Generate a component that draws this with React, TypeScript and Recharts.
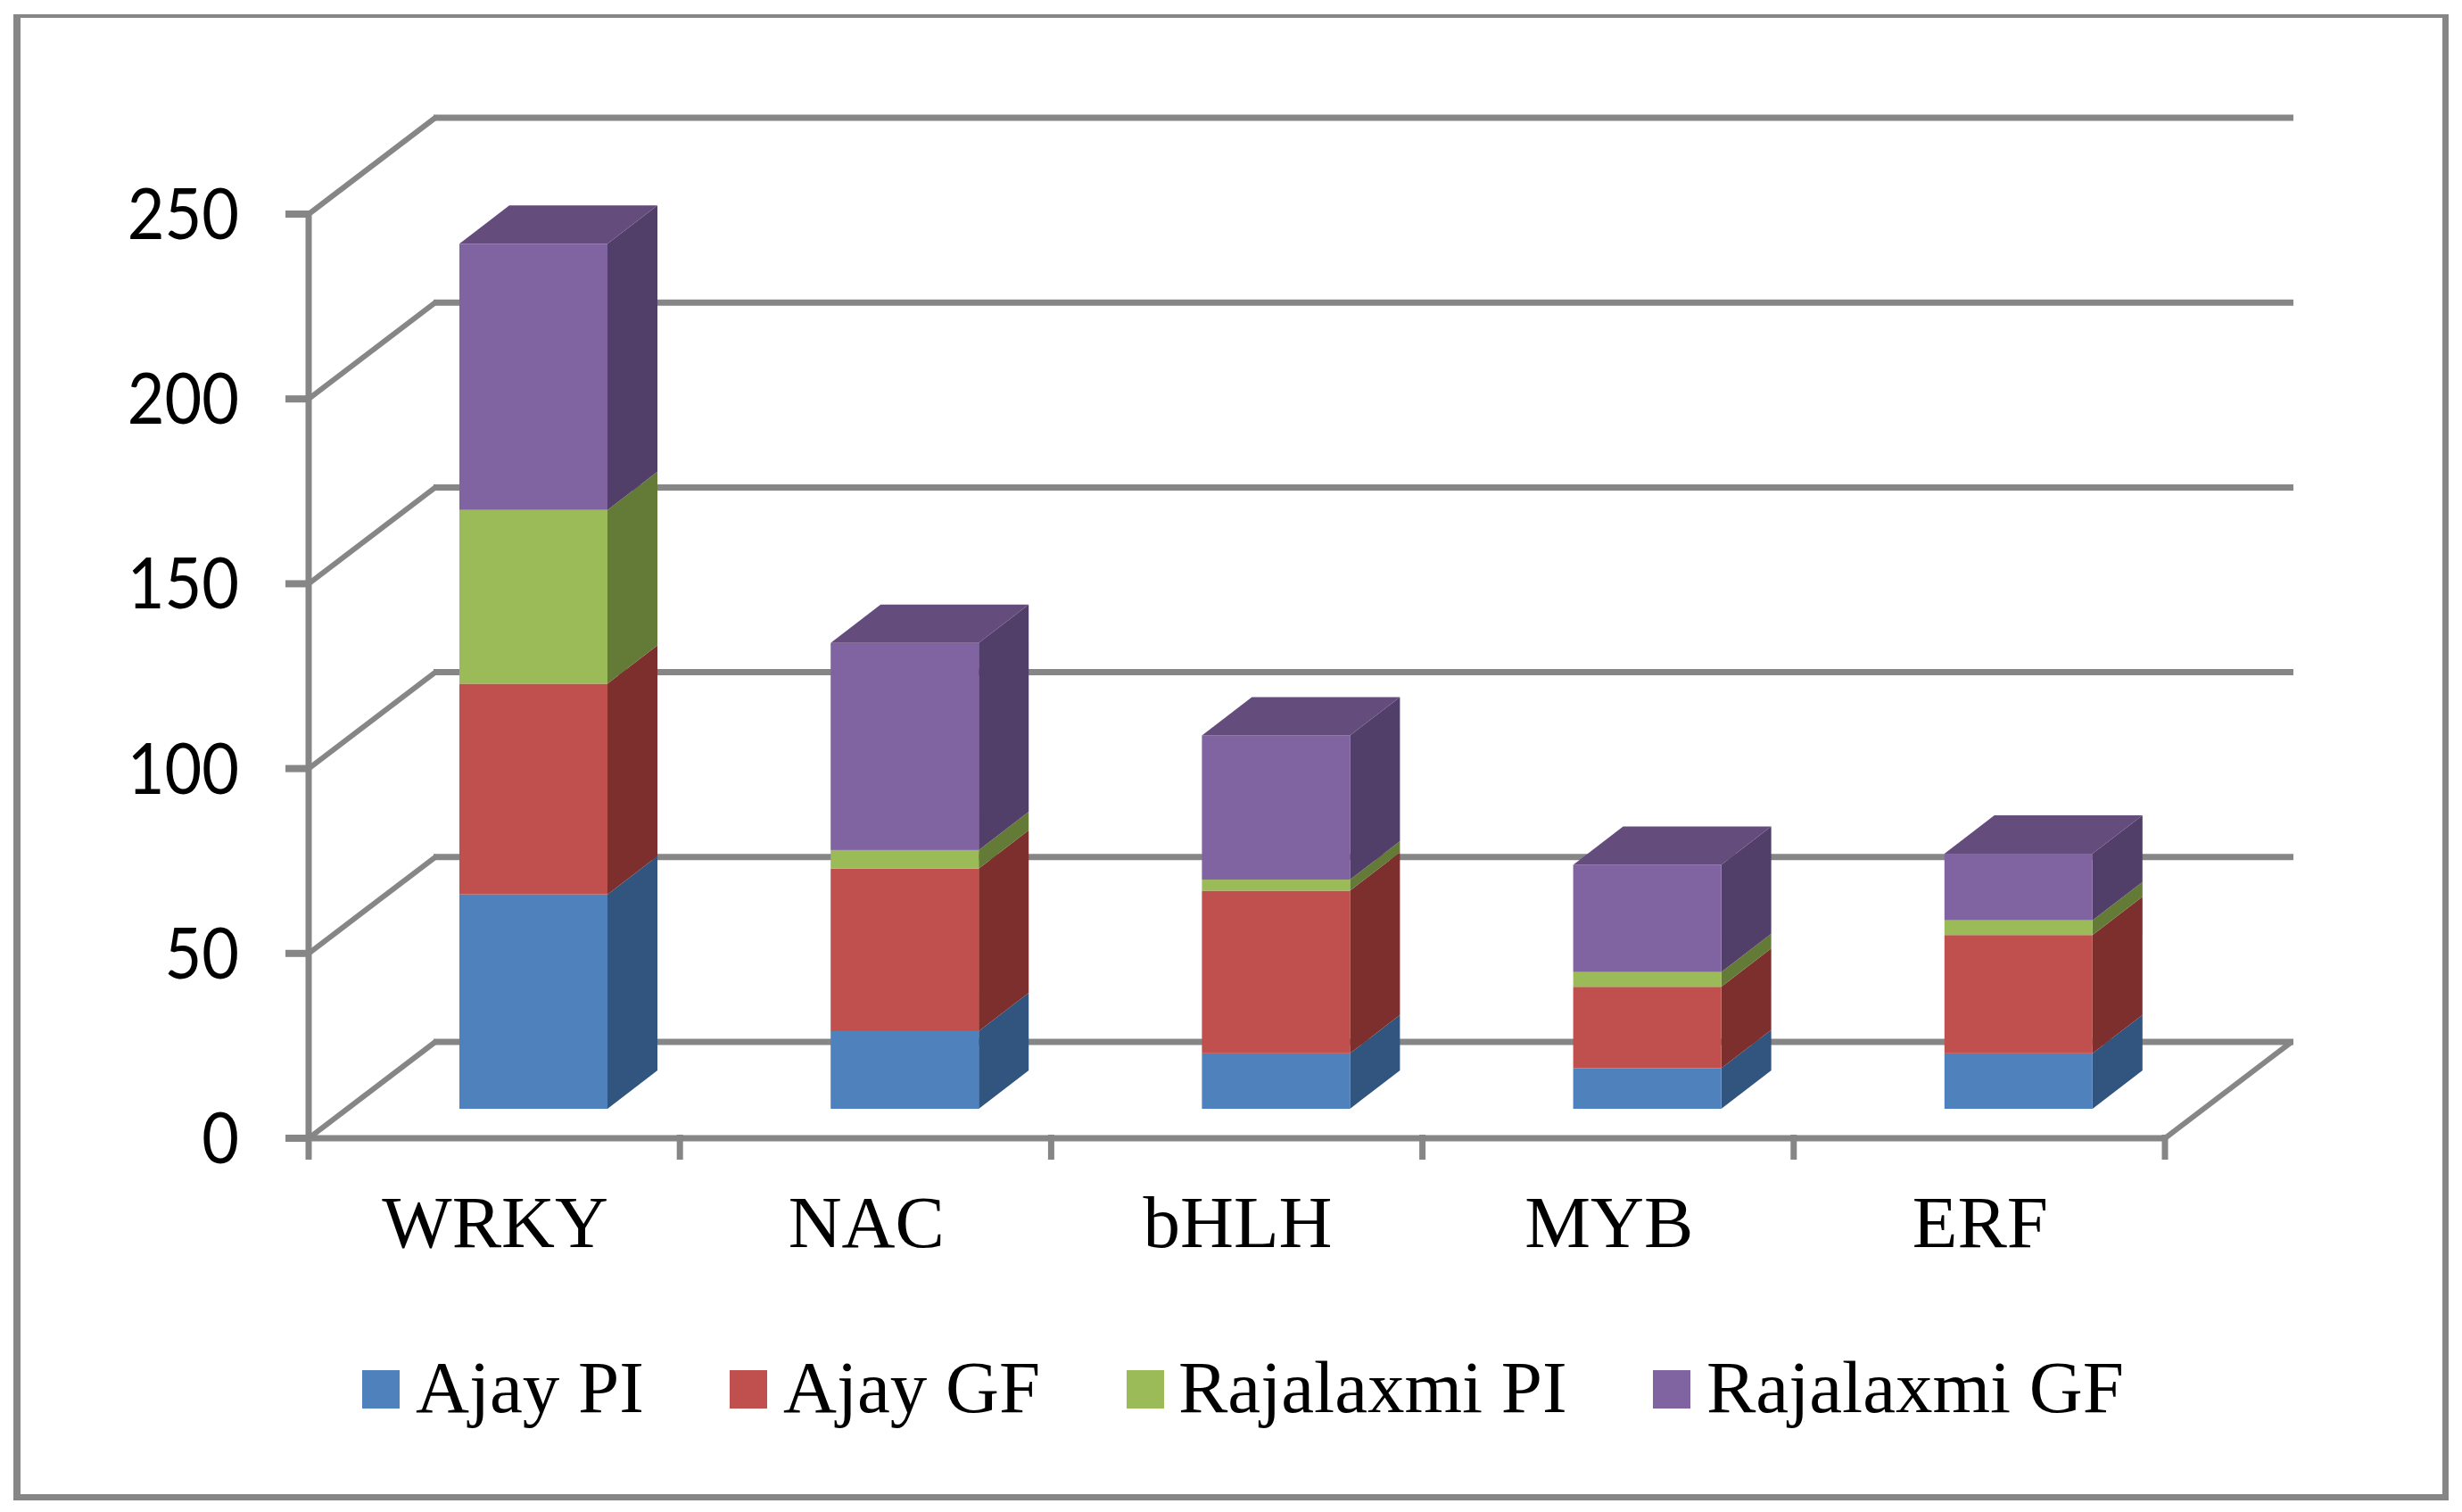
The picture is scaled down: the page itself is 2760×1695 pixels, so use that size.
import * as React from "react"
import { Bar, BarChart, CartesianGrid, Legend, XAxis, YAxis } from "recharts"

const categories = ["WRKY", "NAC", "bHLH", "MYB", "ERF"]
const ajayPI = [58, 21, 15, 11, 15]
const ajayGF = [57, 44, 44, 22, 32]
const rajalaxmiPI = [47, 5, 3, 4, 4]
const rajalaxmiGF = [72, 56, 39, 29, 18]
const yTicks = [0, 50, 100, 150, 200, 250]

const seriesNames = ["Ajay PI", "Ajay GF", "Rajalaxmi PI", "Rajalaxmi GF"]
const frontColors = ["#4f81bd", "#c0504d", "#9bbb59", "#8064a2"]
const sideColors = ["#31557e", "#7c2f2d", "#647a37", "#523f69"]
const topColor = "#644c7c"

const chartData = categories.map((name, i) => ({
  name,
  ajayPI: ajayPI[i],
  ajayGF: ajayGF[i],
  rajalaxmiPI: rajalaxmiPI[i],
  rajalaxmiGF: rajalaxmiGF[i],
}))

// pseudo 3D geometry, in px
const AXIS_LEFT = 346
const AXIS_RIGHT = 2427
const WALL_DX = 142
const WALL_DY = 108
const BAR_DX = 44
const BAR_DY = 33
const DEPTH_X = 56
const DEPTH_Y = 43
const LINE = "#868686"
const BAND = (AXIS_RIGHT - AXIS_LEFT) / categories.length

// one grid row: the slanted side wall piece and the line on the back wall
function WallLine({ y1 }: any) {
  return (
    <g key={y1}>
      <line x1={AXIS_LEFT} x2={AXIS_LEFT + WALL_DX} y1={y1} y2={y1 - WALL_DY} stroke={LINE} strokeWidth={6} />
      <line
        x1={AXIS_LEFT + WALL_DX - 2}
        x2={AXIS_RIGHT + WALL_DX + 2}
        y1={y1 - WALL_DY}
        y2={y1 - WALL_DY}
        stroke={LINE}
        strokeWidth={7}
      />
    </g>
  )
}

function ValueTick({ y, payload }: any) {
  return (
    <g>
      <line x1={320} x2={AXIS_LEFT + 3} y1={y} y2={y} stroke={LINE} strokeWidth={8} />
      <text
        transform={`translate(268 ${y + 28}) scale(0.96 1.05)`}
        textAnchor="end"
        fontFamily="Lato"
        fontSize={75}
        fill="#000"
      >
        {payload.value}
      </text>
    </g>
  )
}

function CategoryTick({ x, y, payload, index }: any) {
  const left = x - BAND / 2
  const right = x + BAND / 2
  return (
    <g>
      <line x1={left} x2={left} y1={y - 4} y2={y + 24} stroke={LINE} strokeWidth={7} />
      {index === categories.length - 1 && (
        <>
          <line x1={right} x2={right} y1={y - 4} y2={y + 24} stroke={LINE} strokeWidth={7} />
          <line x1={right} x2={right + WALL_DX} y1={y} y2={y - WALL_DY} stroke={LINE} strokeWidth={6} />
        </>
      )}
      <text x={x + 1} y={y + 122} textAnchor="middle" fontFamily="Liberation Serif" fontSize={83} fill="#000">
        {payload.value}
      </text>
    </g>
  )
}

// front face + right side of one stacked segment, the last series also gets the lid
function SegmentShape(props: any) {
  const { x, y, width, height, seriesIndex } = props
  const w = 166
  const left = x + width / 2 - w / 2 + BAR_DX
  const top = y - BAR_DY
  const bottom = top + height
  const r = left + w
  return (
    <g>
      <polygon
        points={`${r},${top} ${r + DEPTH_X},${top - DEPTH_Y} ${r + DEPTH_X},${bottom - DEPTH_Y} ${r},${bottom}`}
        fill={sideColors[seriesIndex]}
      />
      <rect x={left} y={top} width={w} height={height} fill={frontColors[seriesIndex]} />
      {seriesIndex === 3 && (
        <polygon
          points={`${left},${top} ${left + DEPTH_X},${top - DEPTH_Y} ${r + DEPTH_X},${top - DEPTH_Y} ${r},${top}`}
          fill={topColor}
        />
      )}
    </g>
  )
}

function ChartLegend() {
  const itemWidths = [412, 445, 590, 700]
  return (
    <div
      style={{
        display: "flex",
        height: 100,
        alignItems: "flex-start",
        fontFamily: "Liberation Serif",
        fontSize: 83,
        lineHeight: "100px",
        color: "#000",
        whiteSpace: "pre",
      }}
    >
      {seriesNames.map((s, i) => (
        <span key={s} style={{ display: "flex", alignItems: "flex-start", width: itemWidths[i] }}>
          <span
            style={{
              width: 42,
              height: 43,
              marginTop: 31,
              marginRight: i === 2 ? 16 : 18,
              backgroundColor: frontColors[i],
            }}
          />
          {s}
        </span>
      ))}
    </div>
  )
}

export default function App() {
  return (
    <div style={{ position: "absolute", left: 0, top: 0, width: 2760, height: 1695, background: "#fff" }}>
      <div
        style={{
          position: "absolute",
          left: 15,
          top: 16,
          width: 2730,
          height: 1666,
          boxSizing: "border-box",
          borderStyle: "solid",
          borderColor: LINE,
          borderWidth: "4px 7px 7px 8px",
        }}
      />
      <div style={{ position: "absolute", left: 0, top: 0 }}>
        <BarChart
          width={2760}
          height={1695}
          data={chartData}
          margin={{ top: 240, right: 2760 - AXIS_RIGHT, bottom: 0, left: 0 }}
          barCategoryGap={0}
        >
          <CartesianGrid vertical={false} horizontal={(p: any) => <WallLine key={p.y1} {...p} />} />
          <YAxis
            width={AXIS_LEFT}
            domain={[0, 250]}
            ticks={yTicks}
            interval={0}
            tickLine={false}
            axisLine={{ stroke: LINE, strokeWidth: 7 }}
            tick={ValueTick}
          />
          <XAxis
            dataKey="name"
            height={319}
            interval={0}
            tickLine={false}
            tickSize={0}
            tickMargin={0}
            axisLine={{ stroke: LINE, strokeWidth: 7 }}
            tick={CategoryTick}
          />
          <Legend
            content={<ChartLegend />}
            wrapperStyle={{ left: 406, width: 2300, top: 1505, bottom: "auto" }}
          />
          <Bar dataKey="ajayPI" name={seriesNames[0]} stackId="a" barSize={166} isAnimationActive={false} shape={(p: any) => <SegmentShape {...p} seriesIndex={0} />} />
          <Bar dataKey="ajayGF" name={seriesNames[1]} stackId="a" barSize={166} isAnimationActive={false} shape={(p: any) => <SegmentShape {...p} seriesIndex={1} />} />
          <Bar dataKey="rajalaxmiPI" name={seriesNames[2]} stackId="a" barSize={166} isAnimationActive={false} shape={(p: any) => <SegmentShape {...p} seriesIndex={2} />} />
          <Bar dataKey="rajalaxmiGF" name={seriesNames[3]} stackId="a" barSize={166} isAnimationActive={false} shape={(p: any) => <SegmentShape {...p} seriesIndex={3} />} />
        </BarChart>
      </div>
    </div>
  )
}
